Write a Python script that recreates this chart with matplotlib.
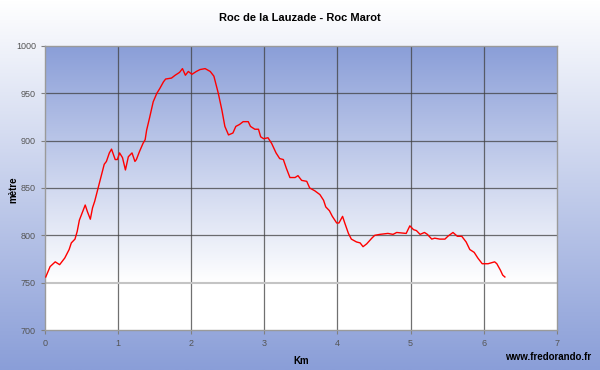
import numpy as np
import matplotlib.pyplot as plt
from matplotlib.colors import LinearSegmentedColormap

# profil altimétrique (km, mètre)
km = [0.01, 0.07, 0.14, 0.20, 0.27, 0.33, 0.36, 0.41, 0.44, 0.47, 0.50, 0.55, 0.58,
      0.62, 0.65, 0.68, 0.73, 0.78, 0.81, 0.84, 0.88, 0.91, 0.96, 0.99, 1.02, 1.06,
      1.10, 1.14, 1.19, 1.23, 1.25, 1.29, 1.34, 1.37, 1.39, 1.43, 1.48, 1.53, 1.57,
      1.62, 1.65, 1.73, 1.78, 1.84, 1.88, 1.92, 1.96, 2.01, 2.07, 2.12, 2.19, 2.26,
      2.31, 2.37, 2.42, 2.46, 2.51, 2.57, 2.61, 2.66, 2.71, 2.78, 2.81, 2.87, 2.92,
      2.95, 2.99, 3.05, 3.10, 3.16, 3.21, 3.26, 3.30, 3.35, 3.42, 3.46, 3.51, 3.58,
      3.62, 3.69, 3.76, 3.81, 3.84, 3.89, 3.93, 3.99, 4.02, 4.07, 4.10, 4.15, 4.19,
      4.26, 4.31, 4.35, 4.40, 4.47, 4.51, 4.58, 4.69, 4.76, 4.81, 4.94, 4.99, 5.04,
      5.08, 5.13, 5.19, 5.23, 5.29, 5.33, 5.40, 5.47, 5.51, 5.58, 5.64, 5.70, 5.76,
      5.81, 5.87, 5.92, 5.98, 6.06, 6.15, 6.18, 6.23, 6.26, 6.29]
alt = [756, 767, 772, 769, 776, 785, 792, 796, 804, 816, 822, 832, 825,
       817, 829, 836, 851, 866, 875, 878, 887, 891, 880, 880, 887, 882,
       869, 883, 887, 878, 880, 888, 897, 901, 911, 924, 941, 950, 955,
       962, 965, 966, 969, 972, 976, 969, 973, 970, 973, 975, 976, 973,
       968, 950, 932, 915, 906, 908, 915, 917, 920, 920, 915, 912, 912,
       904, 902, 903, 897, 887, 881, 880, 871, 861, 861, 863, 858, 857,
       850, 847, 843, 837, 830, 826, 820, 813, 813, 820, 813, 802, 796,
       793, 792, 788, 791, 797, 800, 801, 802, 801, 803, 802, 810, 806,
       805, 801, 803, 801, 796, 797, 796, 796, 799, 803, 799, 799, 793,
       785, 782, 776, 770, 770, 772, 770, 763, 758, 756]

titre = 'Roc de la Lauzade - Roc Marot'
bleu = '#8a9ed8'

plt.rcParams['font.family'] = ['Liberation Sans', 'DejaVu Sans']

fig = plt.figure(figsize=(6, 3.7), dpi=100)

# fond de la figure : blanc en haut, bleu en bas
bg = fig.add_axes([0, 0, 1, 1], zorder=-10)
cmap_bg = LinearSegmentedColormap.from_list('bg', ['white', bleu])
bg.imshow(np.linspace(0, 1, 256).reshape(-1, 1), cmap=cmap_bg, aspect='auto',
          extent=[0, 1, 0, 1], origin='upper')
bg.axis('off')

ax = fig.add_axes([0.075, 0.108, 0.853, 0.768])
# fond de la zone de tracé : bleu en haut, blanc à partir de 750
cmap_ax = LinearSegmentedColormap.from_list('ax', [(0, 'white'), (1 / 6, 'white'), (1, bleu)])
ax.imshow(np.linspace(0, 1, 256).reshape(-1, 1), cmap=cmap_ax, aspect='auto',
          extent=[0, 7, 700, 1000], origin='lower', zorder=0)

for x in range(1, 7):
    ax.axvline(x, color='#404040', lw=0.9, alpha=0.75, zorder=1)
for y in range(800, 1000, 50):
    ax.axhline(y, color='#404040', lw=0.9, alpha=0.75, zorder=1)
ax.axhline(750, color='#c4c4c4', lw=1.5, zorder=1)

ax.plot(km, alt, color='red', lw=1, zorder=3)

ax.set_xlim(0, 7)
ax.set_ylim(700, 1000)
ax.set_xticks(range(0, 8))
ax.set_yticks(range(700, 1001, 50))
ax.tick_params(labelsize=6.5, labelcolor='#555555', color='#808080', length=3, width=0.8)
for s in ax.spines.values():
    s.set_color('#9a9a9a')
    s.set_linewidth(1)

ax.set_xlabel('Km', fontsize=7, fontweight='bold', labelpad=6)
fig.text(0.022, 0.487, 'mètre', rotation=90, ha='center', va='center',
         fontsize=7, fontweight='bold')
fig.text(0.5, 0.952, titre, ha='center', va='center', fontsize=8, fontweight='bold')
fig.text(0.985, 0.034, 'www.fredorando.fr', ha='right', va='center', fontsize=7, fontweight='bold')

fig.savefig('out.png', dpi=100)
